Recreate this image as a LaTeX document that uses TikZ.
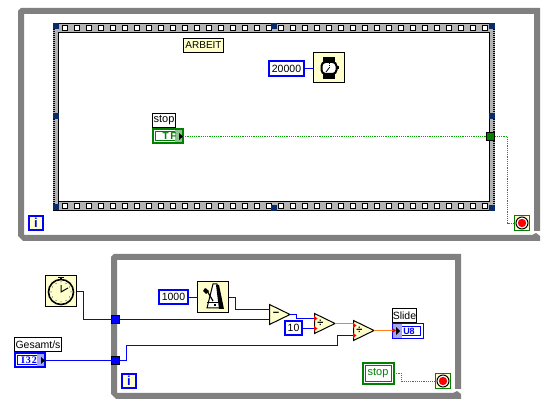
\documentclass[tikz,border=0pt]{standalone}
\usepackage{fontspec}
\setmainfont{Liberation Sans}
\newfontfamily\termfont{Liberation Serif}
\usetikzlibrary{calc}
\definecolor{loopgray}{HTML}{808080}
\definecolor{framegray}{HTML}{B3B3B3}
\definecolor{cream}{HTML}{FFFFCC}
\definecolor{navy}{HTML}{0A2A6E}
\definecolor{intblue}{HTML}{0000FF}
\definecolor{boolgreen}{HTML}{007F00}
\definecolor{dotgreen}{HTML}{00A800}
\definecolor{orangew}{HTML}{FF7F1A}
\definecolor{shadeblue}{HTML}{A6A6F2}
\definecolor{shadegreen}{HTML}{8CC08C}
\newcommand\pxn[7]{\node[#1,minimum width={(#5-#3)*1pt},minimum height={(#6-#4)*1pt}] (#2) at ({(#3+#5)/2},{(#4+#6)/2}) {#7};}
\tikzset{
  x=1pt,y=-1pt,
  every node/.style={inner sep=0pt,outer sep=0pt,font=\fontsize{10.5}{12}\selectfont},
  lbl/.style={draw=black,fill=white,line width=1pt},
  note/.style={draw=black,fill=cream,line width=1pt,font=\fontsize{10}{12}\selectfont},
  iconbox/.style={draw=black,fill=cream,line width=1pt},
  numconst/.style={draw=intblue,fill=white,line width=2pt},
  termblue/.style={draw=intblue,fill=white,line width=2pt},
  termgreen/.style={draw=boolgreen,fill=white,line width=2pt},
  indblue/.style={draw=intblue,fill=white,line width=1pt},
  wireb/.style={draw=intblue,line width=1pt},
  wireo/.style={draw=orangew,line width=1pt},
  wireg/.style={draw=dotgreen,line width=1.2pt,dash pattern=on 1.2pt off 1pt},
  tunblue/.style={draw=black,fill=intblue,line width=1pt},
  tungreen/.style={draw=black,fill=boolgreen,line width=1pt},
  prim/.style={draw=black,fill=cream,line width=1pt,line join=miter},
  opsign/.style={font=\bfseries\fontsize{11}{11}\selectfont},
  stopbox/.style={draw=boolgreen,fill=cream,line width=1pt},
  iterbox/.style={draw=intblue,fill=cream,line width=2pt,text=intblue,font=\bfseries\fontsize{13}{13}\selectfont},
}
\newcommand\stopicon[1]{
  \fill[white] ($(#1)$) circle (6.5);
  \draw[black,line width=1pt] ($(#1)$) circle (6);
  \fill[red] ($(#1)$) circle (4.2);
}
\begin{document}
\begin{tikzpicture}
\useasboundingbox (0,0) rectangle (549,411);
\fill[white] (0,0) rectangle (549,411);

% while loop 1
\fill[loopgray]
  (21,8) -- (540,8) -- (540,231) -- (534,231) -- (534,14) -- (24,14) -- (24,235) -- (532,235) -- (536,233) -- (540,236) -- (540,241) -- (23,241) -- (18,236) -- (18,11) -- cycle;
% while loop 2
\fill[loopgray]
  (114,254) -- (461,254) -- (461,389) -- (455,389) -- (455,260) -- (117,260) -- (117,393) -- (453,393) -- (457,391) -- (461,394) -- (461,399) -- (116,399) -- (111,394) -- (111,257) -- cycle;

% flat sequence frame
\fill[framegray] (53,23) rectangle (495,211);
\fill[white] (58.5,32.5) rectangle (489.5,201.5);
\draw[black,line width=1pt] (58,211) -- (58,32.5) -- (489.5,32.5) -- (489.5,201.5) -- (58,201.5);
\draw[black,line width=1pt] (53,23.5) -- (495,23.5);
\draw[black,line width=1pt] (53,210.5) -- (495,210.5);
\draw[black,line width=2pt,dash pattern=on 1pt off 1pt] (54,29) -- (54,205);
\draw[black,line width=2pt,dash pattern=on 1pt off 1pt] (494,29) -- (494,205);
\foreach \k in {0,...,35} {
  \draw[black,fill=white,line width=1pt] ({62.5+12*\k},25.5) rectangle ({67.5+12*\k},30.5);
  \draw[black,fill=white,line width=1pt] ({62.5+12*\k},203.5) rectangle ({67.5+12*\k},208.5);
}
\foreach \hx/\hy in {53/23,271/23,489/23,53/113,489/113,53/204,271/205,489/205}
  \fill[navy] (\hx,\hy) rectangle ++(6,6.5);

% loop 1 content
\pxn{note}{arbeit}{183.5}{38.5}{223.5}{52.5}{ARBEIT}
\pxn{numconst}{cb}{269}{61}{304}{76}{20000}
\pxn{iconbox}{watch}{313.5}{52.5}{344.5}{82.5}{}
\draw[wireb] (cb.east) -- (cb.east -| watch.west);
\fill[black] (323,57) rectangle (335,64);
\fill[black] (323,72) rectangle (335,79);
\draw[black,fill=white,line width=2pt,rounded corners=4pt] (321.5,62) rectangle (336.5,74);
\fill[black] (337,66.5) rectangle (339,69.5);
\draw[black,line width=.8pt,dash pattern=on 1pt off 1pt] (329,63) -- (329,68);
\draw[black,line width=.8pt] (329,68) -- (326,72);
\pxn{lbl}{stoplbl}{152.5}{113.5}{175.5}{127.5}{\fontsize{11}{12}\selectfont stop}
\pxn{termgreen}{stopterm}{153}{129}{183}{143}{}
\draw[boolgreen,line width=1pt] (155.5,131.5) rectangle (181.5,140.5);
\fill[shadegreen] (175,130) rectangle (182,142);
\node[text=boolgreen,font=\bfseries\fontsize{10}{10}\selectfont] (tf) at (169.5,136.3) {T\kern1.5pt F};
\fill[black] (179,133) -- (183,136.5) -- (179,140) -- cycle;
\pxn{tungreen}{tun1}{486.5}{132.5}{494.5}{140.5}{}
\draw[wireg] (stopterm.east |- tun1.west) -- (tun1.west);
\pxn{stopbox}{stop1}{514.5}{215.5}{529.5}{230.5}{}
\coordinate (w1a) at (507.5,136.5);
\coordinate (w1b) at (507.5,223.5);
\draw[wireg] (tun1.east) -- (w1a) -- (w1b) -- (w1b -| stop1.west);
\stopicon{stop1.center}
\pxn{iterbox}{iter1}{29}{216}{43}{230}{i}

% loop 2 outside
\pxn{iconbox}{clock}{45.5}{275.5}{76.5}{306.5}{}
\fill[black] (58,277) rectangle (64,278.5);
\fill[black] (60,278) rectangle (62,280);
\draw[black,line width=1.6pt] (61,292) circle (12.5);
\draw[black,line width=1pt] (61,285) -- (61,292) -- (68,288);
\foreach \a in {30,60,...,360} \fill[black] ($(61,292)+(\a:10)$) circle (.5);
\pxn{lbl}{gesamtlbl}{14.5}{337.5}{61.5}{351.5}{Gesamt/s}
\pxn{termblue}{gesamt}{15}{353}{45}{367}{}
\draw[intblue,line width=1pt] (17.5,355.5) rectangle (43.5,364.5);
\fill[shadeblue] (37,354) rectangle (44,366);
\node[text=intblue,font=\termfont\bfseries\fontsize{10}{10}\selectfont] (i32) at (29,360.3) {I\kern1pt 3\kern1pt 2};
\fill[black] (41,357) -- (45,360.5) -- (41,364) -- cycle;

% tunnels
\pxn{tunblue}{t1}{111.5}{315.5}{119.5}{323.5}{}
\pxn{tunblue}{t2}{111.5}{356.5}{119.5}{364.5}{}
\coordinate (c1) at (83.5,291.5);
\coordinate (c2) at (83.5,319.5);
\draw[wireb] (clock.east |- c1) -- (c1) -- (c2) -- (t1.west);
\draw[wireb] (gesamt.east |- t2.west) -- (t2.west);

% metronome
\pxn{numconst}{c1000}{159}{290}{188}{304}{1000}
\pxn{iconbox}{metro}{197.5}{281.5}{228.5}{312.5}{}
\coordinate (m1) at (235.5,297.5);
\draw[wireb] (c1000.east |- m1) -- (metro.west |- m1);
\draw[black,fill=white,line width=1pt] (213,284) -- (207,308) -- (222,308) -- (217,284) -- cycle;
\fill[black] (216,285) -- (219,285) -- (224,309) -- (219,309) -- cycle;
\draw[black,line width=1.2pt] (213,301) -- (206,289);
\fill[black] (205,288) -- (209,291) -- (206,294) -- (203,291) -- cycle;
\draw[black,line width=1pt] (207,303) -- (222,303);
\fill[black] (213.5,304.5) rectangle (215.5,306.5);

% primitives
\path[prim] (269.5,304.5) -- (290,314.5) -- (269.5,324.5) -- cycle;
\coordinate (subA) at (269.5,309.5);
\coordinate (subB) at (269.5,319.5);
\coordinate (subOut) at (290,314.5);
\node[opsign] (minus) at (276,314.5) {−};
\path[prim] (314.5,313.5) -- (335,323.5) -- (314.5,333.5) -- cycle;
\coordinate (d1A) at (314.5,318.5);
\coordinate (d1B) at (314.5,328.5);
\coordinate (d1Out) at (335,323.5);
\node[opsign] (div1) at (320.5,323.5) {÷};
\path[prim] (353.5,320.5) -- (374,330.5) -- (353.5,340.5) -- cycle;
\coordinate (d2A) at (353.5,325.5);
\coordinate (d2B) at (353.5,335.5);
\coordinate (d2Out) at (374,330.5);
\node[opsign] (div2) at (359.5,330.5) {÷};
\pxn{numconst}{c10}{285}{321}{302}{335}{10}

% wires
\coordinate (m2) at (235.5,309.5);
\draw[wireb] (metro.east |- m1) -- (m1) -- (m2) -- (subA);
\draw[wireb] (t1.east) -- (subB);
\coordinate (s1) at (296.5,314.5);
\coordinate (s2) at (296.5,318.5);
\draw[wireb] (subOut) -- (s1) -- (s2) -- (d1A);
\draw[wireb] (c10.east |- d1B) -- (d1B);
\coordinate (g1) at (126.5,360.5);
\coordinate (g2) at (126.5,345.5);
\coordinate (g3) at (337.5,345.5);
\coordinate (g4) at (337.5,335.5);
\draw[wireb] (t2.east) -- (g1) -- (g2) -- (g3) -- (g4) -- (d2B);
\draw[wireo] (d1Out) -- (d2A |- d1Out);
\pxn{lbl}{slidelbl}{392.5}{308.5}{416.5}{322.5}{Slide}
\pxn{indblue}{slide}{392.5}{323.5}{423.5}{338.5}{}
\fill[shadeblue] (393,324) rectangle (402,338);
\draw[intblue,line width=1pt] (402,326.5) -- (420.5,326.5) -- (420.5,335.5) -- (402,335.5);
\node[text=intblue,font=\bfseries\fontsize{9}{10}\selectfont] (u8) at (409,331) {U8};
\fill[black] (396,327) -- (400,331) -- (396,335) -- cycle;
\draw[wireo] (d2Out) -- (slide.west |- d2Out);
% input pins
\foreach \p in {d1A,d1B,d2A,d2B}
  \fill[red] ($(\p)+(-.5,-2.5)$) -- ($(\p)+(3,0)$) -- ($(\p)+(-.5,2.5)$) -- cycle;
\fill[red] (392.5,328) -- (396,330.5) -- (392.5,333) -- cycle;

% stop constant
\pxn{termgreen}{stopc}{363}{363}{394}{384}{}
\draw[boolgreen,line width=1pt] (365.5,365.5) rectangle (391.5,381.5);
\node[text=boolgreen,font=\fontsize{11}{12}\selectfont] (stoptxt) at (378,373.5) {stop};
\pxn{stopbox}{stop2}{435.5}{373.5}{450.5}{388.5}{}
\coordinate (p1) at (401.5,373.5);
\coordinate (p2) at (401.5,381.5);
\draw[wireg] (stopc.east) -- (p1) -- (p2) -- (p2 -| stop2.west);
\stopicon{stop2.center}
\pxn{iterbox}{iter2}{122}{374}{136}{388}{i}
\end{tikzpicture}
\end{document}
